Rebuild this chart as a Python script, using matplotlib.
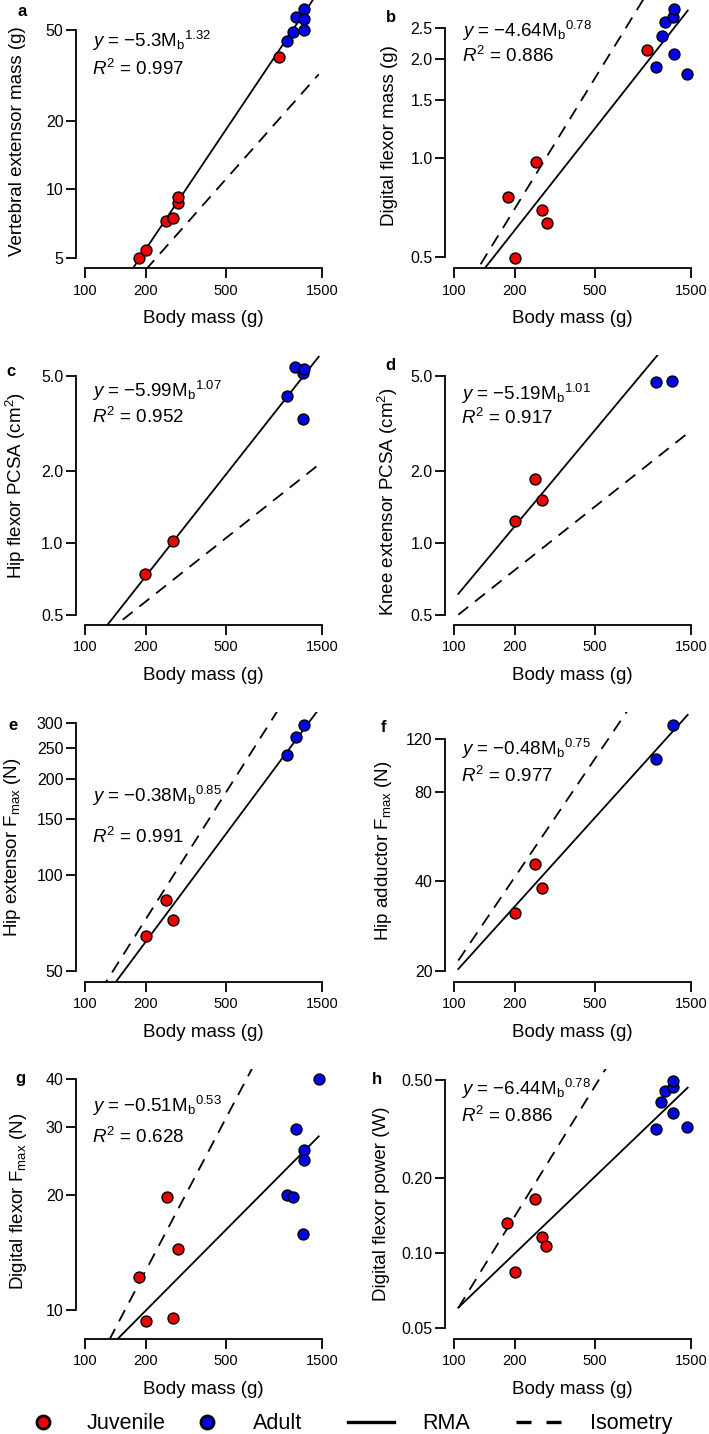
import numpy as np
import matplotlib
matplotlib.use('Agg')
import matplotlib.pyplot as plt

plt.rcParams['font.family'] = ['Liberation Sans', 'DejaVu Sans']
plt.rcParams['mathtext.fontset'] = 'custom'
plt.rcParams['mathtext.rm'] = 'Liberation Sans'
plt.rcParams['mathtext.it'] = 'Liberation Sans:italic'
plt.rcParams['mathtext.bf'] = 'Liberation Sans:bold'

##############################################################################
# data (body mass in g)
a_juv_mass = [186, 200, 251, 274, 290, 290, 921]
a_juv_val = [5.0, 5.4, 7.27, 7.45, 8.72, 9.21, 38.2]
a_ad_mass = [1009, 1073, 1111, 1221, 1221, 1221]
a_ad_val = [44.7, 48.8, 56.9, 61.6, 55.9, 50.0]

b_juv_mass = [185, 201, 254, 274, 289, 911]
b_juv_val = [0.759, 0.497, 0.970, 0.694, 0.635, 2.14]
b_ad_mass = [1009, 1077, 1119, 1215, 1230, 1230, 1438]
b_ad_val = [1.90, 2.35, 2.60, 2.69, 2.84, 2.07, 1.81]

c_juv_mass = [198, 272]
c_juv_val = [0.74, 1.02]
c_ad_mass = [1002, 1102, 1211, 1225, 1203]
c_ad_val = [4.12, 5.47, 5.16, 5.35, 3.29]

d_juv_mass = [200, 252, 272]
d_juv_val = [1.24, 1.85, 1.51]
d_ad_mass = [1002, 1211]
d_ad_val = [4.73, 4.78]

e_juv_mass = [200, 252, 272]
e_juv_val = [64.6, 83.6, 72.3]
e_ad_mass = [1009, 1111, 1221]
e_ad_val = [238.5, 271, 296.5]

f_juv_mass = [200, 252, 272]
f_juv_val = [31.4, 45.6, 38.0]
f_ad_mass = [1002, 1221]
f_ad_val = [103, 134]

g_juv_mass = [186, 200, 254, 272, 290]
g_juv_val = [12.17, 9.36, 19.76, 9.51, 14.4]
g_ad_mass = [1009, 1081, 1111, 1221, 1221, 1203, 1449]
g_ad_val = [19.9, 19.7, 29.7, 26.2, 24.6, 15.8, 40.0]

h_juv_mass = [184, 200, 252, 272, 287]
h_juv_val = [0.132, 0.0837, 0.165, 0.1164, 0.1071]
h_ad_mass = [1002, 1069, 1111, 1221, 1215, 1221, 1428]
h_ad_val = [0.317, 0.409, 0.449, 0.470, 0.497, 0.367, 0.322]

# fits: ln(y) = int + slope * ln(Mb)
rma_int = [-5.3, -4.64, -5.99, -5.19, -0.38, -0.48, -0.51, -6.44]
rma_slope = [1.32, 0.78, 1.07, 1.01, 0.85, 0.75, 0.53, 0.78]
rma_r2 = [0.997, 0.886, 0.952, 0.917, 0.991, 0.977, 0.628, 0.886]
iso_int = [-3.812, -5.655, -4.098, -3.795, -1.012, -1.578, -2.76, -8.956]
iso_slope = [1, 1, 0.667, 0.667, 1, 1, 1, 1.32]
line_mass = [105, 1445]

letters = ['a', 'b', 'c', 'd', 'e', 'f', 'g', 'h']
ylabels = ['Vertebral extensor mass (g)', 'Digital flexor mass (g)',
           'Hip flexor PCSA (cm$^2$)', 'Knee extensor PCSA (cm$^2$)',
           'Hip extensor F$_\\mathrm{max}$ (N)', 'Hip adductor F$_\\mathrm{max}$ (N)',
           'Digital flexor F$_\\mathrm{max}$ (N)', 'Digital flexor power (W)']
yticks = [[5, 10, 20, 50], [0.5, 1.0, 1.5, 2.0, 2.5], [0.5, 1.0, 2.0, 5.0],
          [0.5, 1.0, 2.0, 5.0], [50, 100, 150, 200, 250, 300], [20, 40, 80, 120],
          [10, 20, 30, 40], [0.05, 0.10, 0.20, 0.50]]
yticklabels = [['5', '10', '20', '50'], ['0.5', '1.0', '1.5', '2.0', '2.5'],
               ['0.5', '1.0', '2.0', '5.0'], ['0.5', '1.0', '2.0', '5.0'],
               ['50', '100', '150', '200', '250', '300'], ['20', '40', '80', '120'],
               ['10', '20', '30', '40'], ['0.05', '0.10', '0.20', '0.50']]
xticks = [100, 200, 500, 1500]

juv = [(a_juv_mass, a_juv_val), (b_juv_mass, b_juv_val), (c_juv_mass, c_juv_val),
       (d_juv_mass, d_juv_val), (e_juv_mass, e_juv_val), (f_juv_mass, f_juv_val),
       (g_juv_mass, g_juv_val), (h_juv_mass, h_juv_val)]
ad = [(a_ad_mass, a_ad_val), (b_ad_mass, b_ad_val), (c_ad_mass, c_ad_val),
      (d_ad_mass, d_ad_val), (e_ad_mass, e_ad_val), (f_ad_mass, f_ad_val),
      (g_ad_mass, g_ad_val), (h_ad_mass, h_ad_val)]

##############################################################################
# layout (pixels)
W, H = 709, 1434
col_left = [76, 445]
row_bottom = [268.3, 625, 981.7, 1338.5]
ax_w, ax_h = 254, 270
xlim = (90.2, 1644)
ylims = [(4.49, 68.9), (0.461, 3.07), (0.454, 6.12), (0.454, 6.12),
         (46.3, 326), (18.4, 148.6), (8.42, 42.7), (0.0452, 0.556)]
letter_pos = [(22, 12), (391, 18), (11, 371), (390, 365),
              (13, 725), (383, 727), (20, 1079), (377, 1079)]
ylab_x = [22, 394, 22, 394, 17, 388, 23, 386]
ylab_y = [141, 136, 486, 502, 847, 851, 1201, 1204]
eq_pos = [(92, 46.7, 75), (462, 36.7, 61.7), (92, 397, 423.3), (461, 400, 424),
          (92, 801.7, 843.3), (461, 755, 781.7), (92, 1111.7, 1143.3), (461, 1095, 1121.7)]

fig = plt.figure(figsize=(W / 100, H / 100), dpi=100)

def fx(x):
    return x / W

def fy(y):
    return 1 - y / H

def fmt(v):
    return ('%g' % v).replace('-', '\u2212')

for i in range(8):
    col, row = i % 2, i // 2
    left, bottom = col_left[col], row_bottom[row]
    ax = fig.add_axes([fx(left), fy(bottom), ax_w / W, ax_h / H])
    ax.set_xscale('log')
    ax.set_yscale('log')
    ax.set_xlim(*xlim)
    ax.set_ylim(*ylims[i])

    xs = np.array(line_mass, dtype=float)
    ax.plot(xs, np.exp(rma_int[i] + rma_slope[i] * np.log(xs)), color='black', lw=1.3)
    ax.plot(xs, np.exp(iso_int[i] + iso_slope[i] * np.log(xs)), color='black', lw=1.3,
            linestyle=(0, (7, 4.8)))
    ax.scatter(juv[i][0], juv[i][1], s=62, facecolor='#EE0000', edgecolor='black',
               linewidth=1, zorder=3, clip_on=False)
    ax.scatter(ad[i][0], ad[i][1], s=62, facecolor='#0000EE', edgecolor='black',
               linewidth=1, zorder=3, clip_on=False)

    for s in ['top', 'right']:
        ax.spines[s].set_visible(False)
    for s in ['left', 'bottom']:
        ax.spines[s].set_linewidth(1.3)
    ax.spines['left'].set_bounds(yticks[i][0], yticks[i][-1])
    ax.spines['bottom'].set_bounds(xticks[0], xticks[-1])
    ax.set_xticks(xticks)
    ax.set_xticklabels([str(t) for t in xticks])
    ax.set_yticks(yticks[i])
    ax.set_yticklabels(yticklabels[i])
    ax.minorticks_off()
    ax.tick_params(axis='both', direction='out', length=7.5, width=1.3)
    ax.tick_params(axis='x', pad=3.5, labelsize=10.5)
    ax.tick_params(axis='y', pad=1.5, labelsize=11.5)

    fig.text(fx(letter_pos[i][0]), fy(letter_pos[i][1]), letters[i], fontsize=12,
             fontweight='bold', ha='center', va='center')
    fig.text(fx(ylab_x[i]), fy(ylab_y[i]), ylabels[i], fontsize=13.5,
             rotation=90, rotation_mode='anchor', ha='center', va='baseline')
    fig.text(fx(left + 127), fy(bottom + 55), 'Body mass (g)', fontsize=13.5,
             ha='center', va='baseline')
    ex, ey1, ey2 = eq_pos[i]
    eq = '$\\mathit{y}$ = ' + fmt(rma_int[i]) + '${\\mathrm{M}_\\mathrm{b}}^{' + '%g' % rma_slope[i] + '}$'
    fig.text(fx(ex), fy(ey1), eq, fontsize=13.5, ha='left', va='baseline')
    fig.text(fx(ex), fy(ey2), '$\\mathit{R}^2$ = ' + '%.3f' % rma_r2[i], fontsize=13.5,
             ha='left', va='baseline')

# legend row
lg = fig.add_axes([0, 0, 1, 1])
lg.set_xlim(0, W)
lg.set_ylim(H, 0)
lg.axis('off')
ly = 1421.7
lg.plot([43], [ly], 'o', ms=9.4, mfc='#EE0000', mec='black', mew=2)
lg.plot([207], [ly], 'o', ms=9.4, mfc='#0000EE', mec='black', mew=2)
lg.plot([348, 394], [ly, ly], color='black', lw=2.4)
lg.plot([516, 562], [ly, ly], color='black', lw=2.4, linestyle=(0, (4.5, 4.5)))
for tx, lab in [(87, 'Juvenile'), (253, 'Adult'), (422, 'RMA'), (590, 'Isometry')]:
    lg.text(tx, 1429, lab, fontsize=15.5, ha='left', va='baseline')

fig.savefig('out.png', dpi=100)
